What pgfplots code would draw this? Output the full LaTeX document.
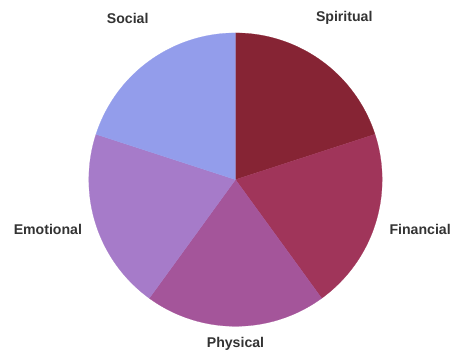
\documentclass[border=0pt]{standalone}
\usepackage{pgfplots}
\pgfplotsset{compat=1.18}
\usepackage{fontspec}
\setmainfont{Liberation Sans}
\definecolor{cSpir}{HTML}{862434}
\definecolor{cFin}{HTML}{A0355A}
\definecolor{cPhy}{HTML}{A4559A}
\definecolor{cEmo}{HTML}{A67BC9}
\definecolor{cSoc}{HTML}{939DEB}
\definecolor{txt}{HTML}{333333}
\tikzset{lbl/.style={font=\bfseries\fontsize{14.2}{17}\selectfont, text=txt}}
\begin{document}
\begin{tikzpicture}
% five slices, 20% each (72 degrees), starting at 12 o'clock going clockwise
\begin{axis}[
  scale only axis, width=454bp, height=353bp,
  xmin=-236, xmax=218, ymin=-173, ymax=180,
  hide axis, clip=false,
  samples=60,
]
\path (rel axis cs:0,0) rectangle (rel axis cs:1,1);
\addplot[fill=cSpir, draw=cSpir, line width=0.2pt, data cs=polar, domain=18:90] ({x},147) -- (axis cs:0,0) -- cycle;
\addplot[fill=cFin, draw=cFin, line width=0.2pt, data cs=polar, domain=-54:18] ({x},147) -- (axis cs:0,0) -- cycle;
\addplot[fill=cPhy, draw=cPhy, line width=0.2pt, data cs=polar, domain=-126:-54] ({x},147) -- (axis cs:0,0) -- cycle;
\addplot[fill=cEmo, draw=cEmo, line width=0.2pt, data cs=polar, domain=162:234] ({x},147) -- (axis cs:0,0) -- cycle;
\addplot[fill=cSoc, draw=cSoc, line width=0.2pt, data cs=polar, domain=90:162] ({x},147) -- (axis cs:0,0) -- cycle;
\node[lbl] at (axis cs:-108,162) {Social};
\node[lbl] at (axis cs:109,162) {Spiritual};
\node[lbl] at (axis cs:185,-50) {Financial};
\node[lbl] at (axis cs:-188,-50) {Emotional};
\node[lbl] at (axis cs:0,-165) {Physical};
\end{axis}
\end{tikzpicture}
\end{document}
